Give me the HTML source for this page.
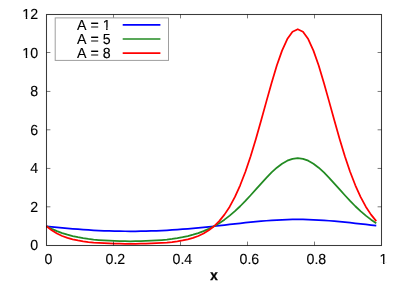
<!DOCTYPE html>
<html><head><meta charset="utf-8"><title>plot</title>
<style>
html,body{margin:0;padding:0;background:#fff;width:407px;height:285px;overflow:hidden}
svg{display:block;position:absolute;left:0;top:0;will-change:transform}
.t{font-family:"Liberation Sans",sans-serif;font-size:14.2px;fill:#000;stroke:#000;stroke-width:0.12px;text-rendering:geometricPrecision;white-space:pre}
.b{font-weight:bold;stroke-width:0.32px}
</style></head><body>
<svg width="407" height="285" viewBox="0 0 407 285">
<rect x="0" y="0" width="407" height="285" fill="#fff"/>
<polyline points="46.50,226.25 51.73,226.81 56.97,227.35 62.20,227.87 67.44,228.35 72.67,228.81 77.91,229.23 83.14,229.61 88.38,229.96 93.61,230.26 98.84,230.53 104.08,230.76 109.31,230.94 114.55,231.09 119.78,231.19 125.02,231.25 130.25,231.27 135.48,231.25 140.72,231.19 145.95,231.09 151.19,230.94 156.42,230.76 161.66,230.53 166.89,230.26 172.12,229.96 177.36,229.61 182.59,229.23 187.83,228.81 193.06,228.35 198.30,227.87 203.53,227.35 208.77,226.81 214.00,226.25 219.23,225.67 224.47,225.08 229.70,224.48 234.94,223.89 240.17,223.30 245.41,222.73 250.64,222.18 255.88,221.66 261.11,221.18 266.34,220.75 271.58,220.37 276.81,220.05 282.05,219.79 287.28,219.60 292.52,219.49 297.75,219.45 302.98,219.49 308.22,219.60 313.45,219.79 318.69,220.05 323.92,220.37 329.16,220.75 334.39,221.18 339.62,221.66 344.86,222.18 350.09,222.73 355.33,223.30 360.56,223.89 365.80,224.48 371.03,225.08 376.27,225.67" fill="none" stroke="#0000ff" stroke-width="1.75" stroke-linejoin="round" stroke-linecap="butt"/>
<polyline points="46.50,226.25 51.73,228.90 56.97,231.17 62.20,233.09 67.44,234.71 72.67,236.06 77.91,237.19 83.14,238.12 88.38,238.89 93.61,239.52 98.84,240.02 104.08,240.43 109.31,240.74 114.55,240.97 119.78,241.13 125.02,241.22 130.25,241.26 135.48,241.22 140.72,241.13 145.95,240.97 151.19,240.74 156.42,240.43 161.66,240.02 166.89,239.52 172.12,238.89 177.36,238.12 182.59,237.19 187.83,236.06 193.06,234.71 198.30,233.09 203.53,231.17 208.77,228.90 214.00,226.25 219.23,223.17 224.47,219.65 229.70,215.64 234.94,211.17 240.17,206.24 245.41,200.91 250.64,195.26 255.88,189.43 261.11,183.55 266.34,177.83 271.58,172.46 276.81,167.68 282.05,163.69 287.28,160.69 292.52,158.82 297.75,158.19 302.98,158.82 308.22,160.69 313.45,163.69 318.69,167.68 323.92,172.46 329.16,177.83 334.39,183.55 339.62,189.43 344.86,195.26 350.09,200.91 355.33,206.24 360.56,211.17 365.80,215.64 371.03,219.65 376.27,223.17" fill="none" stroke="#228b22" stroke-width="1.75" stroke-linejoin="round" stroke-linecap="butt"/>
<polyline points="46.50,226.25 51.73,230.31 56.97,233.49 62.20,235.96 67.44,237.87 72.67,239.35 77.91,240.48 83.14,241.35 88.38,242.02 93.61,242.53 98.84,242.92 104.08,243.22 109.31,243.44 114.55,243.60 119.78,243.71 125.02,243.77 130.25,243.79 135.48,243.77 140.72,243.71 145.95,243.60 151.19,243.44 156.42,243.22 161.66,242.92 166.89,242.53 172.12,242.02 177.36,241.35 182.59,240.48 187.83,239.35 193.06,237.87 198.30,235.96 203.53,233.49 208.77,230.31 214.00,226.25 219.23,221.10 224.47,214.64 229.70,206.65 234.94,196.92 240.17,185.29 245.41,171.69 250.64,156.18 255.88,139.00 261.11,120.59 266.34,101.62 271.58,82.94 276.81,65.57 282.05,50.59 287.28,39.02 292.52,31.70 297.75,29.19 302.98,31.70 308.22,39.02 313.45,50.59 318.69,65.57 323.92,82.94 329.16,101.62 334.39,120.59 339.62,139.00 344.86,156.18 350.09,171.69 355.33,185.29 360.56,196.92 365.80,206.65 371.03,214.64 376.27,221.10" fill="none" stroke="#ff0000" stroke-width="1.75" stroke-linejoin="round" stroke-linecap="butt"/>
<path d="M46.5,206.80h3.9 M381.5,206.80h-3.9 M46.5,168.45h3.9 M381.5,168.45h-3.9 M46.5,129.80h3.9 M381.5,129.80h-3.9 M46.5,91.45h3.9 M381.5,91.45h-3.9 M46.5,52.50h3.9 M381.5,52.50h-3.9 M113.50,245.5v-3.9 M113.50,14.5v3.9 M180.50,245.5v-3.9 M180.50,14.5v3.9 M247.50,245.5v-3.9 M247.50,14.5v3.9 M314.50,245.5v-3.9 M314.50,14.5v3.9" stroke="#000" stroke-opacity="0.52" stroke-width="1" fill="none"/>
<rect x="46.5" y="14.5" width="335.0" height="231.0" fill="none" stroke="#000" stroke-opacity="0.77" stroke-width="1.05"/>
<rect x="55.2" y="17.9" width="113.3" height="42.5" fill="#fff" stroke="#9e9e9e" stroke-width="1"/>
<path d="M122.7,24.90H160.4" stroke="#0000ff" stroke-width="1.6" fill="none"/>
<text x="77.00 86.47 90.42 98.71 102.66" y="0" transform="translate(0,29.70) scale(1,1.03)" class="t">A = 1</text>
<path d="M122.7,39.00H160.4" stroke="#228b22" stroke-width="1.6" fill="none"/>
<text x="77.00 86.47 90.42 98.71 102.66" y="0" transform="translate(0,43.80) scale(1,1.03)" class="t">A = 5</text>
<path d="M122.7,53.10H160.4" stroke="#ff0000" stroke-width="1.6" fill="none"/>
<text x="77.00 86.47 90.42 98.71 102.66" y="0" transform="translate(0,57.90) scale(1,1.03)" class="t">A = 8</text>
<text x="30.20" y="0" transform="translate(0,250.15) scale(1,1.03)" class="t">0</text>
<text x="30.20" y="0" transform="translate(0,211.65) scale(1,1.03)" class="t">2</text>
<text x="30.20" y="0" transform="translate(0,173.15) scale(1,1.03)" class="t">4</text>
<text x="30.20" y="0" transform="translate(0,134.65) scale(1,1.03)" class="t">6</text>
<text x="30.20" y="0" transform="translate(0,96.15) scale(1,1.03)" class="t">8</text>
<text x="22.31 30.20" y="0" transform="translate(0,57.65) scale(1,1.03)" class="t">10</text>
<text x="22.31 30.20" y="0" transform="translate(0,19.15) scale(1,1.03)" class="t">12</text>
<text x="44.45" y="0" transform="translate(0,264.40) scale(1,1.03)" class="t">0</text>
<text x="105.50 113.40 117.34" y="0" transform="translate(0,264.40) scale(1,1.03)" class="t">0.2</text>
<text x="172.50 180.40 184.34" y="0" transform="translate(0,264.40) scale(1,1.03)" class="t">0.4</text>
<text x="239.50 247.40 251.34" y="0" transform="translate(0,264.40) scale(1,1.03)" class="t">0.6</text>
<text x="306.50 314.40 318.34" y="0" transform="translate(0,264.40) scale(1,1.03)" class="t">0.8</text>
<text x="379.60" y="0" transform="translate(0,264.40) scale(1,1.03)" class="t">1</text>
<text x="0" y="0" transform="translate(210.15,279.8) scale(0.95,1)" class="t b">x</text>
<path d="M102.94,27.60H106.11V30.30H102.94Z M107.60,27.60H110.47V30.30H107.60Z M22.59,55.55H25.76V58.25H22.59Z M27.25,55.55H30.12V58.25H27.25Z M22.59,17.05H25.76V19.75H22.59Z M27.25,17.05H30.12V19.75H27.25Z M379.88,262.30H383.05V265.00H379.88Z M384.54,262.30H387.41V265.00H384.54Z" fill="#fff" stroke="none"/>
</svg>
</body></html>
